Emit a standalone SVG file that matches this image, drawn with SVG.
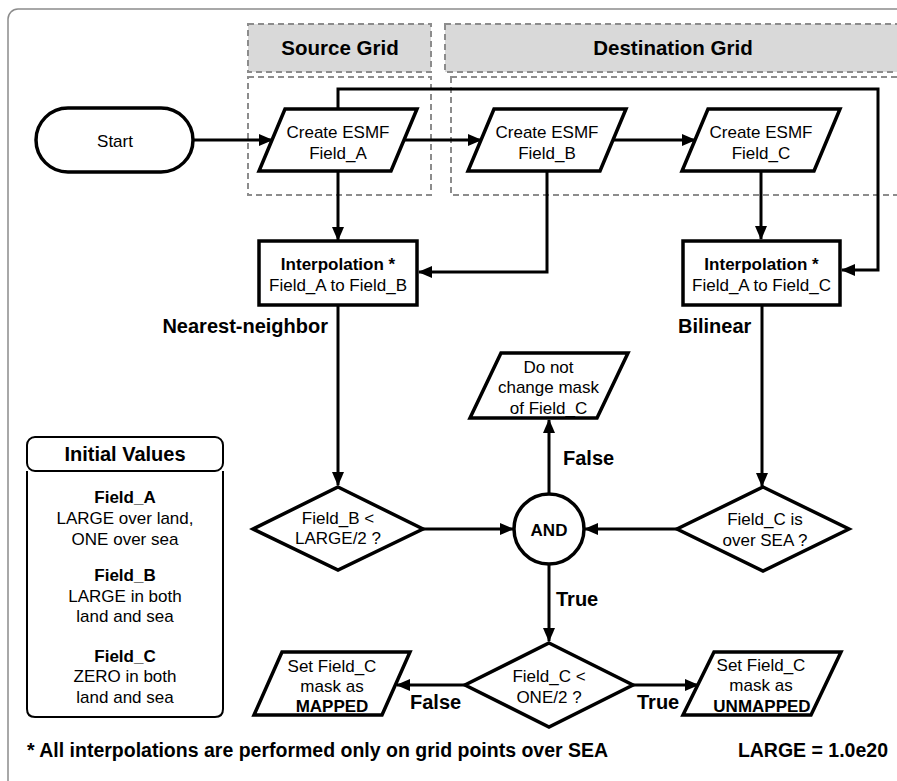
<svg xmlns="http://www.w3.org/2000/svg" width="897" height="781" viewBox="0 0 897 781">
<defs>
<marker id="arr" markerUnits="userSpaceOnUse" markerWidth="14" markerHeight="12" refX="13" refY="6" orient="auto">
<path d="M0,0 L14,6 L0,12 Z" fill="#000"/>
</marker>
<style>
text{font-family:"Liberation Sans",Arial,Helvetica,sans-serif;fill:#000;text-anchor:middle}
.t{font-size:17px}
.b{font-size:17px;font-weight:bold}
.lb{font-size:20px;font-weight:bold}
.hd{font-size:20.5px;font-weight:bold}
.shape{fill:#fff;stroke:#000;stroke-width:3.5;stroke-linejoin:miter}
.grid{fill:none;stroke:#8c8c8c;stroke-width:2;stroke-dasharray:6 4}
.gridh{fill:#d9d9d9;stroke:#8c8c8c;stroke-width:2;stroke-dasharray:6 4}
.conn path{fill:none;stroke:#000;stroke-width:3;marker-end:url(#arr)}
.l{text-anchor:start}
</style>
</defs>
<rect x="8" y="9" width="930" height="800" rx="10" fill="#fff" stroke="#8c8c8c" stroke-width="1.5"/>

<g id="source-grid">
<rect class="gridh" x="248" y="24" width="183" height="48"/>
<rect class="grid" x="248" y="77" width="183" height="118"/>
<text class="hd" x="340" y="55">Source Grid</text>
</g>
<g id="destination-grid">
<rect class="gridh" x="445" y="24" width="470" height="48"/>
<rect class="grid" x="451" y="77" width="470" height="118"/>
<text class="hd" x="673" y="55">Destination Grid</text>
</g>

<g class="conn" id="connectors">
<path d="M193,140 H272"/>
<path d="M404,140 H481"/>
<path d="M613,140 H695"/>
<path d="M338,109 V89 H878 V270 H842"/>
<path d="M338,171 V240"/>
<path d="M547,171 V272 H419"/>
<path d="M761,171 V239"/>
<path d="M338,305 V485"/>
<path d="M762,305 V486"/>
<path d="M423,529 H513"/>
<path d="M677,529 H585"/>
<path d="M549,494 V420"/>
<path d="M549,564 V641"/>
<path d="M465,685 H397"/>
<path d="M633,685 H698"/>
</g>

<g id="start">
<rect class="shape" x="36" y="108" width="157" height="64" rx="32"/>
<text class="t" x="115" y="147">Start</text>
</g>
<g id="field-a">
<polygon class="shape" points="285,109 417,109 391,171 259,171"/>
<text class="t" x="338" y="138">Create ESMF</text>
<text class="t" x="338" y="159">Field_A</text>
</g>
<g id="field-b">
<polygon class="shape" points="494,109 626,109 600,171 468,171"/>
<text class="t" x="547" y="138">Create ESMF</text>
<text class="t" x="547" y="159">Field_B</text>
</g>
<g id="field-c">
<polygon class="shape" points="708,109 840,109 814,171 682,171"/>
<text class="t" x="761" y="138">Create ESMF</text>
<text class="t" x="761" y="159">Field_C</text>
</g>
<g id="interp-b">
<rect class="shape" x="259" y="241" width="158" height="64"/>
<text class="b" x="338" y="270">Interpolation *</text>
<text class="t" x="338" y="291">Field_A to Field_B</text>
</g>
<g id="interp-c">
<rect class="shape" x="683" y="241" width="157" height="64"/>
<text class="b" x="761.5" y="270">Interpolation *</text>
<text class="t" x="761.5" y="291">Field_A to Field_C</text>
</g>
<g id="label-nn"><text class="lb" x="328" y="333" style="text-anchor:end">Nearest-neighbor</text></g>
<g id="label-bilinear"><text class="lb l" x="678" y="333">Bilinear</text></g>

<g id="no-change">
<polygon class="shape" points="501,353 628,353 597,418 470,418"/>
<text class="t" x="548.5" y="373">Do not</text>
<text class="t" x="548.5" y="393">change mask</text>
<text class="t" x="548.5" y="414">of Field_C</text>
</g>
<g id="dec-b">
<polygon class="shape" points="338,487 423,529 338,570 253,529"/>
<text class="t" x="338" y="524">Field_B &lt;</text>
<text class="t" x="338" y="544">LARGE/2 ?</text>
</g>
<g id="dec-c">
<polygon class="shape" points="763,487 849,529 763,571 677,529"/>
<text class="t" x="765" y="525">Field_C is</text>
<text class="t" x="765" y="546">over SEA ?</text>
</g>
<g id="and">
<circle class="shape" cx="549" cy="529" r="35"/>
<text class="b" x="549" y="536">AND</text>
</g>
<g id="label-false-up"><text class="lb l" x="563" y="465">False</text></g>
<g id="label-true-down"><text class="lb l" x="556" y="606">True</text></g>
<g id="dec-one">
<polygon class="shape" points="549,643 633,685 549,727 465,685"/>
<text class="t" x="549" y="682">Field_C &lt;</text>
<text class="t" x="549" y="703">ONE/2 ?</text>
</g>
<g id="mapped">
<polygon class="shape" points="282,652 410,652 382,715 254,715"/>
<text class="t" x="332" y="672">Set Field_C</text>
<text class="t" x="332" y="692">mask as</text>
<text class="b" x="332" y="712">MAPPED</text>
</g>
<g id="unmapped">
<polygon class="shape" points="714,652 841,652 811,715 683,715"/>
<text class="t" x="761" y="671">Set Field_C</text>
<text class="t" x="761" y="691">mask as</text>
<text class="b" x="762" y="712">UNMAPPED</text>
</g>
<g id="label-false-bottom"><text class="lb l" x="410" y="709">False</text></g>
<g id="label-true-bottom"><text class="lb l" x="637" y="709">True</text></g>

<g id="initial-values">
<path class="shape" d="M27,471 V709 Q27,717 35,717 H215 Q223,717 223,709 V471" style="stroke-width:2"/>
<rect class="shape" x="27" y="437" width="196" height="34" rx="8" style="stroke-width:2"/>
<text class="lb" x="125" y="461">Initial Values</text>
<text class="b" x="125" y="503">Field_A</text>
<text class="t" x="125" y="524">LARGE over land,</text>
<text class="t" x="125" y="545">ONE over sea</text>
<text class="b" x="125" y="581">Field_B</text>
<text class="t" x="125" y="602">LARGE in both</text>
<text class="t" x="125" y="622">land and sea</text>
<text class="b" x="125" y="662">Field_C</text>
<text class="t" x="125" y="682">ZERO in both</text>
<text class="t" x="125" y="703">land and sea</text>
</g>

<g id="footnote">
<text class="lb l" x="27" y="757" style="font-size:19.5px">* All interpolations are performed only on grid points over SEA</text>
<text class="lb" x="888" y="757" style="font-size:19.5px;text-anchor:end">LARGE = 1.0e20</text>
</g>
</svg>
